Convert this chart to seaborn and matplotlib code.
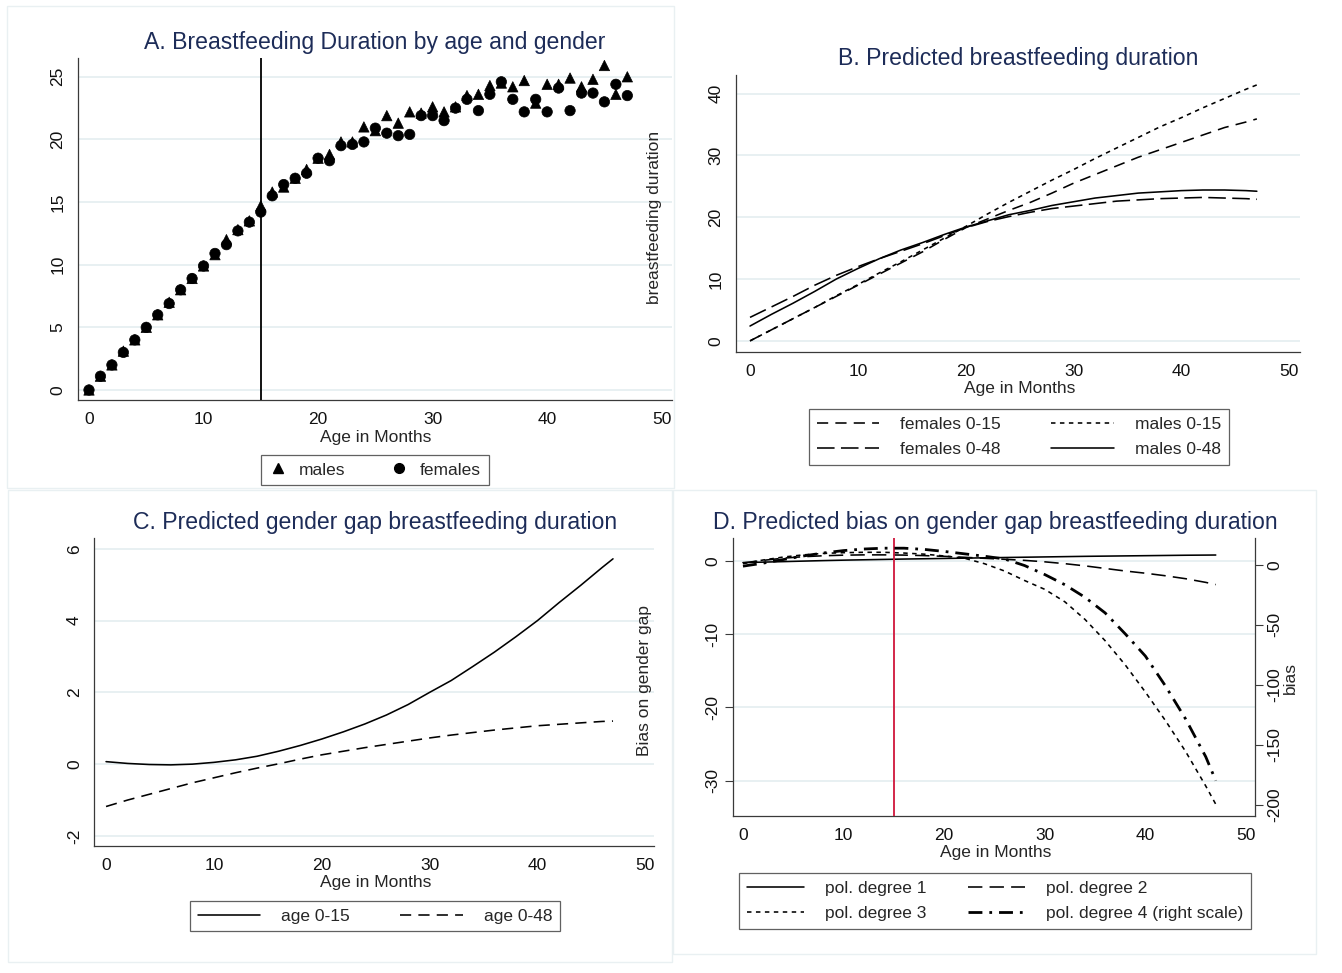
import numpy as np
import pandas as pd
import matplotlib
matplotlib.use("Agg")
import matplotlib.pyplot as plt
import seaborn as sns
from matplotlib.lines import Line2D
from matplotlib.patches import Rectangle

# ---------------- data ----------------
ages_a = list(range(48))
males_a = [0.0, 1.1, 2.0, 3.1, 4.0, 5.0, 6.0, 7.0, 8.0, 8.9, 9.9, 10.8, 12.0, 12.8, 13.5, 14.7,
           15.8, 16.2, 16.9, 17.6, 18.5, 18.8, 19.8, 19.8, 21.0, 20.7, 21.9, 21.3, 22.2, 22.1,
           22.6, 22.2, 22.6, 23.5, 23.6, 24.3, 24.5, 24.2, 24.7, 22.9, 24.4, 24.4, 24.9, 24.2,
           24.8, 25.9, 23.6, 25.0]
females_a = [0.0, 1.1, 2.0, 3.0, 4.0, 5.0, 6.0, 6.9, 8.0, 8.9, 9.9, 10.9, 11.6, 12.7, 13.4, 14.2,
             15.5, 16.4, 16.9, 17.3, 18.5, 18.3, 19.5, 19.6, 19.8, 20.9, 20.5, 20.3, 20.4, 21.9,
             21.9, 21.5, 22.5, 23.2, 22.3, 23.6, 24.6, 23.2, 22.2, 23.2, 22.2, 24.1, 22.3, 23.7,
             23.7, 23.0, 24.4, 23.5]

ages_l = [0, 2, 4, 6, 8, 10, 12, 14, 16, 18, 20, 22, 24, 26, 28, 30, 32, 34, 36, 38, 40, 42, 44, 46, 47]
# Panel B: predicted breastfeeding duration
fem_0_15 = [0.0, 1.8, 3.6, 5.4, 7.2, 9.0, 10.8, 12.6, 14.4, 16.4, 18.3, 19.7, 21.1, 22.4, 23.9,
            25.5, 26.9, 28.3, 29.7, 30.9, 32.1, 33.3, 34.5, 35.4, 35.9]
mal_0_15 = [0.0, 1.8, 3.6, 5.4, 7.3, 9.1, 11.0, 12.8, 14.7, 16.6, 18.5, 20.5, 22.4, 24.2, 26.0,
            27.7, 29.5, 31.2, 32.9, 34.6, 36.1, 37.7, 39.2, 40.7, 41.4]
fem_0_48 = [3.8, 5.5, 7.2, 9.0, 10.6, 12.0, 13.3, 14.5, 15.7, 17.0, 18.3, 19.3, 20.1, 20.8, 21.4,
            21.8, 22.2, 22.6, 22.8, 23.0, 23.1, 23.2, 23.1, 23.0, 22.9]
mal_0_48 = [2.4, 4.3, 6.1, 8.0, 10.0, 11.7, 13.3, 14.7, 15.9, 17.2, 18.4, 19.4, 20.4, 21.1, 21.9,
            22.5, 23.1, 23.5, 23.9, 24.1, 24.3, 24.4, 24.4, 24.3, 24.2]
# Panel C: predicted gender gap
gap_0_15 = [0.07, 0.02, -0.01, -0.02, 0.0, 0.05, 0.12, 0.22, 0.36, 0.52, 0.7, 0.9, 1.12, 1.37,
            1.66, 2.0, 2.33, 2.72, 3.12, 3.55, 4.0, 4.5, 4.98, 5.48, 5.72]
gap_0_48 = [-1.18, -1.0, -0.84, -0.68, -0.52, -0.38, -0.24, -0.11, 0.01, 0.14, 0.26, 0.36, 0.46,
            0.55, 0.64, 0.73, 0.81, 0.88, 0.95, 1.01, 1.07, 1.11, 1.15, 1.19, 1.2]
# Panel D: predicted bias
deg1 = [-0.25, -0.19, -0.12, -0.05, 0.02, 0.08, 0.13, 0.18, 0.23, 0.27, 0.31, 0.35, 0.4, 0.44,
        0.48, 0.52, 0.56, 0.6, 0.63, 0.66, 0.69, 0.72, 0.75, 0.77, 0.78]
deg2 = [-0.3, 0.05, 0.35, 0.55, 0.68, 0.76, 0.8, 0.8, 0.77, 0.7, 0.6, 0.47, 0.33, 0.2, 0.05,
        -0.15, -0.4, -0.7, -1.05, -1.4, -1.7, -2.05, -2.45, -2.95, -3.25]
deg3 = [-0.4, 0.1, 0.5, 0.8, 1.0, 1.1, 1.15, 1.15, 1.05, 0.9, 0.65, 0.35, -0.4, -1.4, -2.7,
        -3.9, -5.6, -8.0, -10.9, -14.2, -17.9, -21.8, -26.0, -30.7, -33.2]
deg4 = [-1.0, 1.5, 4.5, 7.5, 10.0, 12.0, 13.3, 14.0, 14.0, 13.0, 11.3, 9.3, 7.3, 5.0, -0.5,
        -8.0, -16.5, -27.0, -40.0, -57.5, -76.0, -101.0, -128.5, -160.0, -180.0]

cutoff_age = 15

# ---------------- style ----------------
sns.set_style("white")
plt.rcParams["font.family"] = ["Liberation Sans", "DejaVu Sans"]
plt.rcParams["axes.unicode_minus"] = False

W, H = 1342, 973
fig = plt.figure(figsize=(W / 100, H / 100), dpi=100)
fig.patch.set_facecolor("white")

TITLE_C = "#1d2c58"
GRID_C = "#e4eef0"
SPINE_C = "#3a3a3a"
FS = 12.5
TFS = 16.6


def add_ax(l, t, r, b):
    return fig.add_axes([l / W, 1 - b / H, (r - l) / W, (b - t) / H])


def style_ax(ax, yticks):
    for s in ["top", "right"]:
        ax.spines[s].set_visible(False)
    for s in ["left", "bottom"]:
        ax.spines[s].set_color(SPINE_C)
        ax.spines[s].set_linewidth(0.9)
    ax.set_xticks([0, 10, 20, 30, 40, 50])
    ax.set_yticks(yticks)
    ax.tick_params(direction="out", length=6, width=0.8, color=SPINE_C,
                   labelsize=FS, pad=3, labelcolor="#111111")
    ax.tick_params(axis="y", labelrotation=90)
    plt.setp(ax.get_yticklabels(), va="center")
    ax.yaxis.grid(True, color=GRID_C, lw=1.2)
    ax.xaxis.grid(False)
    ax.set_axisbelow(True)
    ax.set_xlabel("")
    ax.set_ylabel("")


def fig_text(x, y, s, **kw):
    fig.text(x / W, 1 - y / H, s, **kw)


def legend_box(handles, labels, cx, cy, ncol=2, handlelength=3.6, handletextpad=1.2,
               columnspacing=2.9):
    leg = fig.legend(handles, labels, loc="center", bbox_to_anchor=(cx / W, 1 - cy / H),
                     ncol=ncol, frameon=True, fancybox=False, edgecolor=SPINE_C,
                     fontsize=FS, handlelength=handlelength, borderpad=0.45,
                     labelspacing=0.6, handletextpad=handletextpad,
                     columnspacing=columnspacing, borderaxespad=0)
    leg.get_frame().set_linewidth(0.9)
    return leg


# faint graph-region borders
for (x0, y0, x1, y1) in [(7, 6, 674, 488), (8, 490, 672, 962), (673, 490, 1316, 954)]:
    fig.patches.append(Rectangle((x0 / W, 1 - y1 / H), (x1 - x0) / W, (y1 - y0) / H,
                                 transform=fig.transFigure, fill=False,
                                 edgecolor="#e9f0f2", lw=1.0, zorder=0))

# ---------------- Panel A ----------------
axA = add_ax(78, 58, 672, 400)
dfA = pd.DataFrame({
    "age": ages_a + ages_a,
    "value": males_a + females_a,
    "sex": ["males"] * len(ages_a) + ["females"] * len(ages_a),
})
sns.scatterplot(data=dfA, x="age", y="value", style="sex",
                markers={"males": "^", "females": "o"}, color="black",
                edgecolor="black", s=56, linewidth=0.5, legend=False, ax=axA)
axA.axvline(cutoff_age, color="black", lw=1.3, zorder=3)
axA.set_xlim(-0.96, 50.9)
axA.set_ylim(-0.8, 26.5)
style_ax(axA, [0, 5, 10, 15, 20, 25])
fig_text(375, 42, "A. Breastfeeding Duration by age and gender", ha="center", va="center",
         fontsize=TFS, color=TITLE_C)
fig_text(376, 437, "Age in Months", ha="center", va="center", fontsize=FS)
hA = [Line2D([], [], marker="^", ls="none", color="black", ms=7),
      Line2D([], [], marker="o", ls="none", color="black", ms=7)]
legend_box(hA, ["males", "females"], 375, 470, handlelength=1.0, handletextpad=0.7,
           columnspacing=2.6)

# ---------------- Panel B ----------------
axB = add_ax(736, 75, 1300, 352)
dfB = pd.concat([
    pd.DataFrame({"age": ages_l, "value": v, "series": n})
    for n, v in [("females 0-15", fem_0_15), ("males 0-15", mal_0_15),
                 ("females 0-48", fem_0_48), ("males 0-48", mal_0_48)]
])
dashB = {"females 0-15": (7, 4.5), "males 0-15": (2.8, 2.8),
         "females 0-48": (11, 4), "males 0-48": ""}
sns.lineplot(data=dfB, x="age", y="value", style="series", dashes=dashB, color="black",
             lw=1.15, errorbar=None, legend=False, ax=axB)
axB.set_xlim(-1.3, 51.0)
axB.set_ylim(-1.8, 43.0)
style_ax(axB, [0, 10, 20, 30, 40])
fig_text(1018, 59, "B. Predicted breastfeeding duration", ha="center", va="center",
         fontsize=TFS, color=TITLE_C)
fig_text(1020, 389, "Age in Months", ha="center", va="center", fontsize=FS)
fig_text(655, 217, "breastfeeding duration", ha="center", va="center", rotation=90, fontsize=FS)
hB = [Line2D([], [], color="black", lw=1.15, dashes=dashB["females 0-15"]),
      Line2D([], [], color="black", lw=1.15, dashes=dashB["females 0-48"]),
      Line2D([], [], color="black", lw=1.15, dashes=dashB["males 0-15"]),
      Line2D([], [], color="black", lw=1.15)]
legend_box(hB, ["females 0-15", "females 0-48", "males 0-15", "males 0-48"], 1019, 437)

# ---------------- Panel C ----------------
axC = add_ax(94.5, 538, 654, 846)
dfC = pd.concat([
    pd.DataFrame({"age": ages_l, "value": v, "series": n})
    for n, v in [("age 0-15", gap_0_15), ("age 0-48", gap_0_48)]
])
dashC = {"age 0-15": "", "age 0-48": (7, 4.5)}
sns.lineplot(data=dfC, x="age", y="value", style="series", dashes=dashC, color="black",
             lw=1.15, errorbar=None, legend=False, ax=axC)
axC.set_xlim(-1.07, 50.8)
axC.set_ylim(-2.28, 6.3)
style_ax(axC, [-2, 0, 2, 4, 6])
fig_text(375, 522, "C. Predicted gender gap breastfeeding duration", ha="center", va="center",
         fontsize=TFS, color=TITLE_C)
fig_text(376, 883, "Age in Months", ha="center", va="center", fontsize=FS)
fig_text(645, 680, "Bias on gender gap", ha="center", va="center", rotation=90, fontsize=FS)
hC = [Line2D([], [], color="black", lw=1.15),
      Line2D([], [], color="black", lw=1.15, dashes=dashC["age 0-48"])]
legend_box(hC, ["age 0-15", "age 0-48"], 375, 916)

# ---------------- Panel D ----------------
axD = add_ax(732.5, 538, 1255, 816)
dfD = pd.concat([
    pd.DataFrame({"age": ages_l, "value": v, "series": n})
    for n, v in [("pol. degree 1", deg1), ("pol. degree 2", deg2), ("pol. degree 3", deg3)]
])
dashD = {"pol. degree 1": "", "pol. degree 2": (9, 4.5), "pol. degree 3": (2.8, 2.8)}
sns.lineplot(data=dfD, x="age", y="value", style="series", dashes=dashD, color="black",
             lw=1.15, errorbar=None, legend=False, ax=axD)
axD.axvline(cutoff_age, color="#d0163c", lw=1.3, zorder=3)
axD.set_xlim(-1.04, 50.9)
axD.set_ylim(-34.8, 3.1)
style_ax(axD, [-30, -20, -10, 0])

axD2 = axD.twinx()
dfD4 = pd.DataFrame({"age": ages_l, "value": deg4, "series": "pol. degree 4 (right scale)"})
sns.lineplot(data=dfD4, x="age", y="value", color="black", lw=2.0, errorbar=None,
             legend=False, ax=axD2)
axD2.lines[0].set_dashes((5, 2.5, 1, 2.5))
axD2.set_ylim(-209.5, 22.5)
axD2.set_yticks([-200, -150, -100, -50, 0])
for s in ["top", "left", "bottom"]:
    axD2.spines[s].set_visible(False)
axD2.spines["right"].set_color(SPINE_C)
axD2.spines["right"].set_linewidth(0.9)
axD2.tick_params(direction="out", length=6, width=0.8, color=SPINE_C,
                 labelsize=FS, pad=3, labelcolor="#111111")
axD2.tick_params(axis="y", labelrotation=90)
plt.setp(axD2.get_yticklabels(), va="center")
axD2.set_ylabel("")
axD2.grid(False)

fig_text(995, 522, "D. Predicted bias on gender gap breastfeeding duration", ha="center",
         va="center", fontsize=TFS, color=TITLE_C)
fig_text(996, 853, "Age in Months", ha="center", va="center", fontsize=FS)
fig_text(1290, 678, "bias", ha="center", va="center", rotation=90, fontsize=FS)
hD = [Line2D([], [], color="black", lw=1.15),
      Line2D([], [], color="black", lw=1.15, dashes=dashD["pol. degree 3"]),
      Line2D([], [], color="black", lw=1.15, dashes=dashD["pol. degree 2"]),
      Line2D([], [], color="black", lw=2.0, dashes=(5, 2.5, 1, 2.5))]
legend_box(hD, ["pol. degree 1", "pol. degree 3", "pol. degree 2", "pol. degree 4 (right scale)"],
           995, 901, handlelength=3.3, columnspacing=2.4)

fig.savefig("out.png", dpi=100, facecolor="white")
